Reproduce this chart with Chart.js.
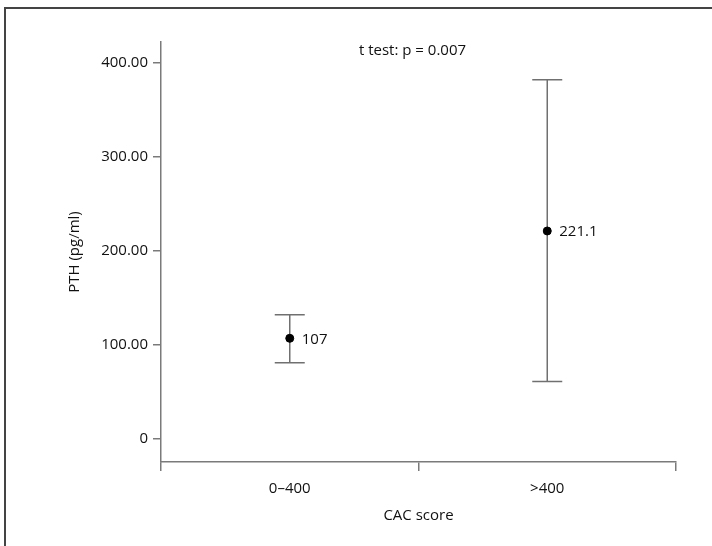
<!DOCTYPE html>
<html>
<head>
<meta charset="utf-8">
<script src="https://cdn.jsdelivr.net/npm/chart.js@4/dist/chart.umd.min.js"></script>
<style>
  html, body { margin: 0; padding: 0; background: #fff; }
  #frame {
    position: absolute; left: 4px; top: 7px; right: 0; bottom: 0;
    border-top: 2px solid #444; border-left: 2px solid #444;
  }
  #wrap { position: absolute; left: 0; top: 0; width: 712px; height: 546px; }
</style>
</head>
<body>
<div id="frame"></div>
<div id="wrap"><canvas id="myChart"></canvas></div>
<script>
// CAC score groups, PTH mean with error bar ends (pg/ml)
const groups = ['0\u2013400', '>400'];
const means = [107, 221.1];
const upper = [132, 382];
const lower = [81, 61];
const yTicks = [0, 100, 200, 300, 400];
const note = 't test: p = 0.007';

const FONT = "'Open Sans', 'DejaVu Sans', sans-serif";
const TXT = '#111';
const AXIS = '#7a7a7a';

const errorBars = {
    id: 'errorBars',
    beforeDatasetsDraw(chart) {
        const ctx = chart.ctx;
        const xs = chart.scales.x, ys = chart.scales.y;
        ctx.save();
        ctx.strokeStyle = '#707070';
        ctx.lineWidth = 1.5;
        groups.forEach((g, i) => {
            const x = xs.getPixelForValue(i);
            const yt = ys.getPixelForValue(upper[i]);
            const yb = ys.getPixelForValue(lower[i]);
            ctx.beginPath();
            ctx.moveTo(x, yt); ctx.lineTo(x, yb);
            ctx.moveTo(x - 15, yt); ctx.lineTo(x + 15, yt);
            ctx.moveTo(x - 15, yb); ctx.lineTo(x + 15, yb);
            ctx.stroke();
        });
        ctx.restore();
    },
    afterDatasetsDraw(chart) {
        const ctx = chart.ctx;
        const xs = chart.scales.x, ys = chart.scales.y;
        ctx.save();
        ctx.fillStyle = TXT;
        ctx.font = '15px ' + FONT;
        ctx.textBaseline = 'middle';
        ctx.textAlign = 'left';
        means.forEach((m, i) => {
            ctx.fillText(String(m), xs.getPixelForValue(i) + 12, ys.getPixelForValue(m) + 1);
        });
        ctx.textAlign = 'center';
        const a = chart.chartArea;
        ctx.fillText(note, (a.left + a.right) / 2 - 6, a.top + 9);
        ctx.restore();
    }
};

new Chart(document.getElementById('myChart'), {
    type: 'line',
    data: {
        labels: groups,
        datasets: [{
            data: means,
            showLine: false,
            pointRadius: 4,
            pointBackgroundColor: '#000',
            pointBorderColor: '#000'
        }]
    },
    options: {
        responsive: true,
        maintainAspectRatio: false,
        animation: false,
        layout: { padding: { top: 42, right: 36, left: 0, bottom: 0 } },
        plugins: { legend: { display: false }, tooltip: { enabled: false } },
        scales: {
            x: {
                offset: true,
                grid: { offset: true, drawOnChartArea: false, drawTicks: true, tickLength: 9, color: AXIS, lineWidth: 1.5 },
                border: { display: true, color: AXIS, width: 1.5 },
                ticks: { color: TXT, font: { family: FONT, size: 15 }, padding: 9 },
                title: { display: true, text: 'CAC score', color: TXT, font: { family: FONT, size: 15 }, padding: { top: 0, bottom: 21 } },
                afterFit(s) { s.height = 84; }
            },
            y: {
                min: -24.5,
                max: 422,
                afterBuildTicks(s) { s.ticks = yTicks.map(v => ({ value: v })); },
                grid: { drawOnChartArea: false, drawTicks: true, tickLength: 8, color: AXIS, lineWidth: 1.5 },
                border: { display: true, color: AXIS, width: 1.5 },
                ticks: {
                    color: TXT, font: { family: FONT, size: 15 }, padding: 5,
                    callback: v => v === 0 ? '0' : v.toFixed(2)
                },
                title: { display: true, text: 'PTH (pg/ml)', color: TXT, font: { family: FONT, size: 15 }, padding: { top: 66, bottom: 0 } },
                afterFit(s) { s.width = 161; }
            }
        }
    },
    plugins: [errorBars]
});
</script>
</body>
</html>
